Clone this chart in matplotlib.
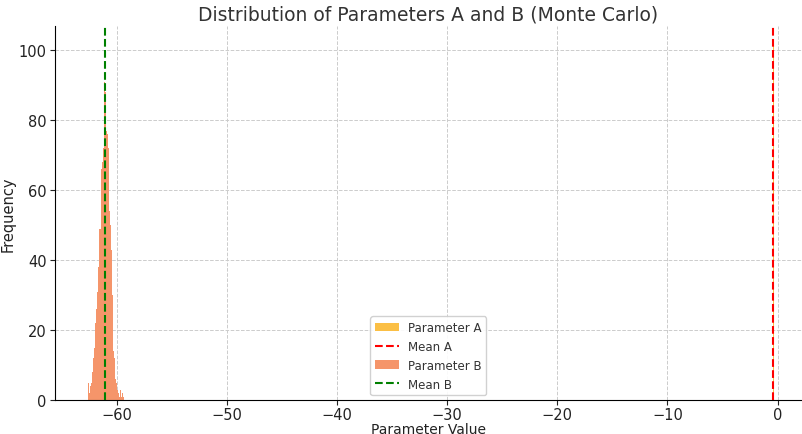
import numpy as np
import matplotlib
matplotlib.use("Agg")
import matplotlib.pyplot as plt

# Parameter B histogram (bin edges and counts)
b_edges = np.linspace(-62.6, -59.3, 37)
b_counts = [5, 2, 4, 5, 8, 12, 15, 22, 26, 31, 38, 49, 49, 66, 68, 72, 91, 88,
            77, 76, 72, 54, 50, 43, 30, 14, 12, 6, 5, 3, 2, 1, 3, 1, 2, 1]

# Parameter A histogram (very narrow, hidden behind its mean line)
a_edges = np.linspace(-0.42, -0.32, 8)
a_counts = [5, 20, 60, 102, 70, 25, 6]

mean_a = -0.37
mean_b = -61.08

x_ticks = [-60, -50, -40, -30, -20, -10, 0]
y_ticks = [0, 20, 40, 60, 80, 100]

fig = plt.figure(figsize=(8.03, 4.35), dpi=100)
ax = fig.add_axes([0.0685, 0.078, 0.930, 0.860])

a_centers = (a_edges[:-1] + a_edges[1:]) / 2
b_centers = (b_edges[:-1] + b_edges[1:]) / 2
ax.hist(a_centers, bins=a_edges, weights=a_counts, color='#FBBF45',
        label='Parameter A', zorder=2)
ax.axvline(mean_a, color='red', linestyle='--', linewidth=1.5, label='Mean A', zorder=3)
ax.hist(b_centers, bins=b_edges, weights=b_counts, color='#F5956A',
        label='Parameter B', zorder=2)
ax.axvline(mean_b, color='green', linestyle='--', linewidth=1.5, label='Mean B', zorder=3)

ax.set_xlim(-65.6, 2.2)
ax.set_ylim(0, 107)
ax.set_xticks(x_ticks)
ax.set_yticks(y_ticks)
ax.tick_params(labelsize=10.5, colors='#222222', pad=2.5)
ax.tick_params(axis='x', labelsize=10.5, pad=1.5)
ax.grid(True, linestyle='--', color='#cccccc', linewidth=0.7, zorder=0)
ax.set_axisbelow(True)
for s in ['top', 'right']:
    ax.spines[s].set_visible(False)

ax.set_title('Distribution of Parameters A and B (Monte Carlo)', fontsize=13.5,
             color='#333333', pad=5)
ax.set_xlabel('Parameter Value', fontsize=10, color='#222222', va='center')
ax.xaxis.set_label_coords(0.5, -0.076)
ax.set_ylabel('Frequency', fontsize=10.5, color='#222222', labelpad=2)

leg = ax.legend(loc='lower center', fontsize=8.5, framealpha=0.9,
                borderaxespad=0.4, handlelength=2.0)
for t in leg.get_texts():
    t.set_color('#333333')

fig.savefig('out.png', dpi=100)
